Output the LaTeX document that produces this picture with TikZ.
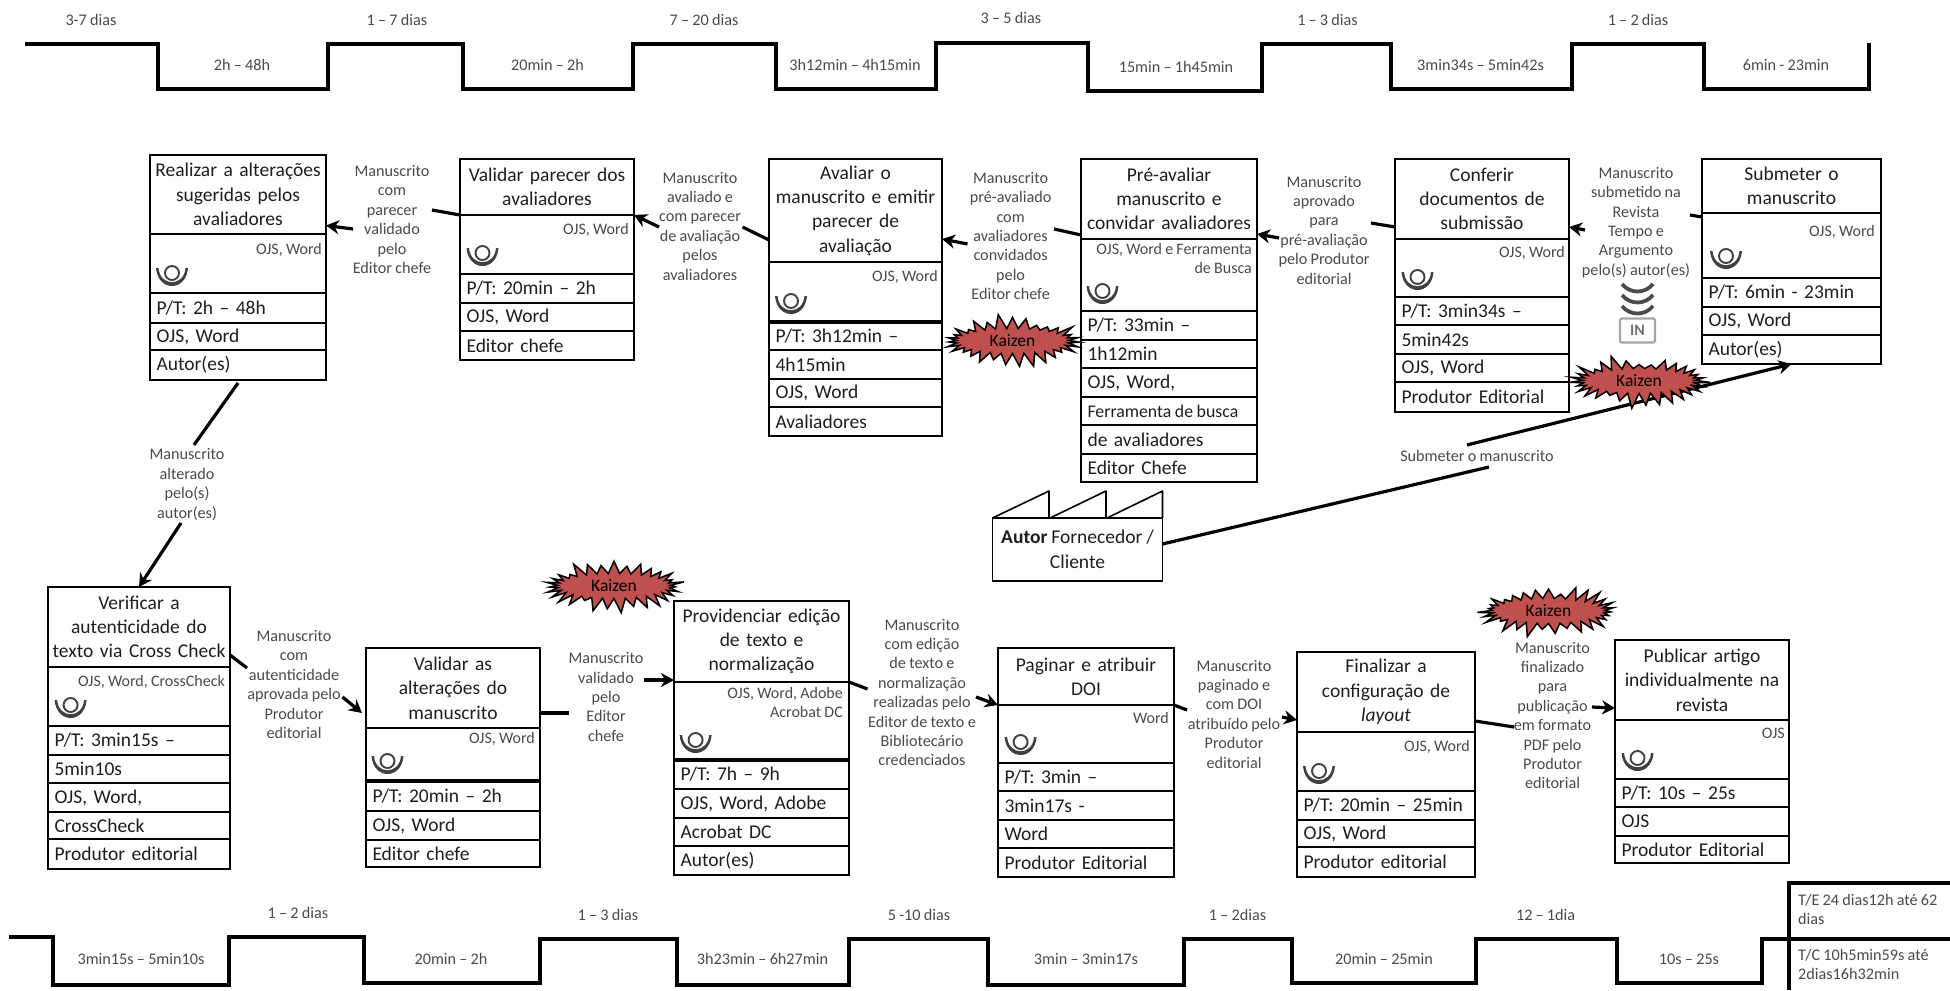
\documentclass[tikz,border=0pt]{standalone}
\usepackage{fontspec}
\setmainfont{Carlito}
\usetikzlibrary{arrows.meta,shapes.symbols}
\definecolor{lblgray}{HTML}{4A4A4A}
\definecolor{inkdark}{HTML}{1E1E1E}
\definecolor{kaizenred}{HTML}{C0504D}
\newcommand{\tightsp}{\spaceskip=.2em\relax}
\newcommand{\smallrow}[1]{{\fontsize{17.8}{24}\selectfont\tightsp #1}}
\tikzset{
  cell/.style={draw=black,line width=2pt,inner ysep=0pt,outer sep=0pt,text=inkdark},
  rowcell/.style={inner xsep=6.5pt,align=left,font=\fontsize{19.5}{24}\selectfont\tightsp},
  titlecell/.style={inner xsep=1.5pt,text width=\cq pt,align=center,font=\fontsize{19.5}{24.3}\selectfont\tightsp},
  toolnote/.style={inner sep=0pt,align=right,text=lblgray,font=\fontsize{16}{19.6}\selectfont\tightsp},
  lbl/.style={inner sep=0pt,align=center,text=lblgray,font=\fontsize{16.2}{19.4}\selectfont\tightsp},
  flow/.style={line width=3.2pt,draw=black,-{Stealth[length=13pt,width=14pt]}},
  tline/.style={line width=4pt,draw=black,line join=miter},
  burst/.style={starburst,starburst points=31,starburst point height=15pt,draw=black,line width=1.5pt,fill=kaizenred,
     inner sep=0pt,minimum width=143pt,minimum height=55pt,text=black,font=\fontsize{17.5}{20}\selectfont},
  operator/.pic={
    \draw[line width=1.9pt,draw=black!75] (0,-2) circle (7pt);
    \fill[black!75] (-16,-7) .. controls (-14,17) and (14,17) .. (16,-7) -- (13.5,-7) .. controls (12,12) and (-12,12) .. (-13.5,-7) -- cycle;
  }
}
\newcommand{\Cell}[7]{%
  \pgfmathsetmacro\cw{#4-#2}\pgfmathsetmacro\ch{#5-#3}%
  \pgfmathsetmacro\cx{(#2+#4)/2}\pgfmathsetmacro\cy{(#3+#5)/2}%
  \pgfmathsetmacro\ct{\cw-13}\pgfmathsetmacro\cq{\cw-3}%
  \node[cell,text width=\ct pt,#6,minimum width=\cw pt,minimum height=\ch pt] (#1) at (\cx,\cy) {#7};}
\newcommand{\Proc}[8]{%
  \Cell{#1t}{#2}{#4}{#3}{#5}{titlecell}{#7}%
  \Cell{#1b}{#2}{#5}{#3}{#6}{rowcell}{}%
  \foreach \yb/\txt [remember=\yb as \ya (initially #6),count=\i] in {#8}{%
    \Cell{#1r\i}{#2}{\ya}{#3}{\yb}{rowcell}{\mbox{\txt}}}}
\newcommand{\Tool}[6]{%
  \pgfmathsetmacro\ty{#3-8}%
  \node[toolnote,anchor=north east] (#1tool) at (#2,\ty) {#4};
  \pic at (#5,#6) {operator};}
\newcommand{\Lab}[4]{\node[lbl] (#1) at (#2,#3) {#4};}
\begin{document}
\begin{tikzpicture}[x=1pt,y=-1pt]
\useasboundingbox (0,0) rectangle (1950,990);
% top timeline
\draw[tline] (25,44) -- (157.5,44) -- (157.5,89) -- (328,89) -- (328,44) -- (463,44) -- (463,89) -- (632.5,89) -- (632.5,44) -- (776,44) -- (776,89) -- (936,89) -- (936,43) -- (1088,43) -- (1088,91) -- (1262,91) -- (1262,44) -- (1391,44) -- (1391,89) -- (1572,89) -- (1572,44) -- (1704,44) -- (1704,89) -- (1869,89) -- (1869,43);
\Lab{ta}{91}{20}{3-7 dias}
\Lab{tb}{397}{20}{1 – 7 dias}
\Lab{tc}{704}{20}{7 – 20 dias}
\Lab{td}{1011}{18}{3 – 5 dias}
\Lab{te}{1327.5}{20}{1 – 3 dias}
\Lab{tf}{1638}{20}{1 – 2 dias}
\Lab{ua}{242}{65}{2h – 48h}
\Lab{ub}{547.5}{65}{20min – 2h}
\Lab{uc}{855}{65}{3h12min – 4h15min}
\Lab{ud}{1176}{67}{15min – 1h45min}
\Lab{ue}{1480.6}{65}{3min34s – 5min42s}
\Lab{uf}{1786}{65}{6min - 23min}
% bottom timeline
\draw[tline] (9,937) -- (53,937) -- (53,985) -- (229,985) -- (229,937) -- (364,937) -- (364,983) -- (540,983) -- (540,939) -- (677,939) -- (677,985) -- (849,985) -- (849,939) -- (987.5,939) -- (987.5,985) -- (1184,985) -- (1184,939) -- (1292,939) -- (1292,983) -- (1476,983) -- (1476,939) -- (1617,939) -- (1617,983) -- (1762,983) -- (1762,939) -- (1950,939);
\draw[tline] (1950,883) -- (1789,883) -- (1789,990);
\Lab{va}{298}{913}{1 – 2 dias}
\Lab{vb}{608}{914.5}{1 – 3 dias}
\Lab{vc}{919}{914.5}{5 -10 dias}
\Lab{vd}{1237.5}{914.5}{1 – 2dias}
\Lab{ve}{1545.6}{914.5}{12 – 1dia}
\Lab{wa}{141}{959}{3min15s – 5min10s}
\Lab{wb}{451}{959}{20min – 2h}
\Lab{wc}{762.5}{959}{3h23min – 6h27min}
\Lab{wd}{1086}{959}{3min – 3min17s}
\Lab{we}{1384}{959}{20min – 25min}
\Lab{wf}{1689}{959}{10s – 25s}
\node[lbl,align=left,anchor=north west] (tE) at (1798,894) {T/E 24 dias12h até 62\\dias};
\node[lbl,align=left,anchor=north west] (tC) at (1798,949) {T/C 10h5min59s até\\2dias16h32min};
% process boxes, top row
\Proc{bA}{150}{326}{155}{234}{293}{Realizar a alterações\\sugeridas pelos\\avaliadores}{323/{P/T: 2h – 48h},350/{OJS, Word},380/{Autor(es)}}
\Tool{bA}{322}{251}{OJS, Word}{172}{275}
\Proc{bB}{460}{634}{159}{215}{274}{Validar parecer dos\\avaliadores}{303/{P/T: 20min – 2h},331/{OJS, Word},360/{Editor chefe}}
\Tool{bB}{629}{231}{OJS, Word}{482.5}{255}
\Proc{bC}{769}{942}{159}{262}{322}{Avaliar o\\manuscrito e emitir\\parecer de\\avaliação}{350/{P/T: 3h12min –},379/{4h15min},407/{OJS, Word},436/{Avaliadores}}
\Tool{bC}{938}{278}{OJS, Word}{791}{303}
\Proc{bD}{1081}{1257}{159}{239}{311}{Pré-avaliar\\manuscrito e\\convidar avaliadores}{340/{P/T: 33min –},368/{1h12min},397/{OJS, Word,},425/{\smallrow{Ferramenta de busca}},454/{de avaliadores},482/{Editor Chefe}}
\Tool{bD}{1252}{251}{OJS, Word e Ferramenta\\de Busca}{1102.5}{293}
\Proc{bE}{1395}{1569}{159}{239}{297}{Conferir\\documentos de\\submissão}{325/{P/T: 3min34s –},354/{5min42s},382/{OJS, Word},412/{Produtor Editorial}}
\Tool{bE}{1565}{254}{OJS, Word}{1417.5}{279}
\Proc{bF}{1702}{1881}{159}{213}{278}{Submeter o\\manuscrito}{307/{P/T: 6min - 23min},335/{OJS, Word},364/{Autor(es)}}
\Tool{bF}{1875}{233}{OJS, Word}{1726}{258}
% process boxes, bottom row
\Proc{bG}{48}{230}{587}{667}{726}{Verificar a\\autenticidade do\\texto via Cross Check}{755/{P/T: 3min15s –},783/{5min10s},812/{OJS, Word,},839/{CrossCheck},869/{Produtor editorial}}
\Tool{bG}{225}{683}{OJS, Word, CrossCheck}{70.6}{707}
\Proc{bH}{366}{540}{648}{728}{781}{Validar as\\alterações do\\manuscrito}{811/{P/T: 20min – 2h},840/{OJS, Word},867/{Editor chefe}}
\Tool{bH}{535}{740}{OJS, Word}{387.5}{763}
\Proc{bI}{674}{849}{601}{682}{760}{Providenciar edição\\de texto e\\normalização}{789/{P/T: 7h – 9h},818/{OJS, Word, Adobe},846/{Acrobat DC},875/{Autor(es)}}
\Tool{bI}{843}{695}{OJS, Word, Adobe\\Acrobat DC}{695.6}{742}
\Proc{bJ}{998}{1174}{648}{705}{763}{Paginar e atribuir\\DOI}{791/{P/T: 3min –},820/{3min17s -},848/{Word},877/{Produtor Editorial}}
\Tool{bJ}{1169}{720}{Word}{1020.6}{744}
\Proc{bK}{1297}{1475}{652}{732}{791}{Finalizar a\\configuração de\\\textit{layout}}{820/{P/T: 20min – 25min},847/{OJS, Word},877/{Produtor editorial}}
\Tool{bK}{1470}{748}{OJS, Word}{1319}{773}
\Proc{bL}{1615}{1789}{640}{720}{779}{Publicar artigo\\individualmente na\\revista}{807/{P/T: 10s – 25s},836/{OJS},863/{Produtor Editorial}}
\Tool{bL}{1785}{736}{OJS}{1637.5}{760}
% thicker separators
\draw[line width=3.6pt] (bCb.south west) -- (bCb.south east);
\draw[line width=3.6pt] (bHb.south west) -- (bHb.south east);
\draw[line width=3.6pt] (bIb.south west) -- (bIb.south east);
% supplier
\node[cell,line width=1.8pt,minimum width=170pt,minimum height=63pt,align=center,font=\fontsize{19.5}{25}\selectfont\tightsp] (aut) at (1077.5,549.5) {\textbf{Autor} Fornecedor /\\Cliente};
\draw[line width=1.6pt,line join=round] (aut.north west) -- (1049,491) -- (1049,518) -- (1050,518) -- (1106,491) -- (1106,518) -- (1107,518) -- (1162.5,491) -- (aut.north east);
% connector labels
\Lab{lA}{392}{219.5}{Manuscrito\\com\\parecer\\validado\\pelo\\Editor chefe}
\Lab{lB}{700}{226}{Manuscrito\\avaliado e\\com parecer\\de avaliação\\pelos\\avaliadores}
\Lab{lC}{1010.6}{236}{Manuscrito\\pré-avaliado\\com\\avaliadores\\convidados\\pelo\\Editor chefe}
\Lab{lD}{1324}{230}{Manuscrito\\aprovado\\para\\pré-avaliação\\pelo Produtor\\editorial}
\Lab{lE}{1636}{222.5}{Manuscrito\\submetido na\\Revista\\Tempo e\\Argumento\\pelo(s) autor(es)}
\Lab{lF}{1477}{456}{Submeter o manuscrito}
\Lab{lG}{187}{484.5}{Manuscrito\\alterado\\pelo(s)\\autor(es)}
\Lab{lH}{294}{684.5}{Manuscrito\\com\\autenticidade\\aprovada pelo\\Produtor\\editorial}
\Lab{lI}{606}{697}{Manuscrito\\validado\\pelo\\Editor\\chefe}
\Lab{lJ}{922}{692.5}{Manuscrito\\com edição\\de texto e\\normalização\\realizadas pelo\\Editor de texto e\\Bibliotecário\\credenciados}
\Lab{lK}{1234}{714}{Manuscrito\\paginado e\\com DOI\\atribuído pelo\\Produtor\\editorial}
\Lab{lL}{1552.5}{715.5}{Manuscrito\\finalizado\\para\\publicação\\em formato\\PDF pelo\\Produtor\\editorial}
% connectors
\draw[flow] (bBt.south west) -- (432,210) (353,229) -- ([yshift=-31pt]bAt.east);
\draw[flow] ([yshift=-29.5pt]bCt.west) -- (742.5,227) (659,227) -- (bBt.south east);
\draw[flow] ([yshift=-36pt]bDt.west) -- (1054,229) (967.5,244) -- ([yshift=-28.5pt]bCt.east);
\draw[flow] ([yshift=-28pt]bEt.west) -- (1371,223) (1279,238) -- ([yshift=-35pt]bDt.east);
\draw[flow] ([yshift=-4pt]bFb.north west) -- (1690,215) (1585,230) -- ([yshift=-28pt]bEt.east);
\draw[flow] ([yshift=5.5pt]aut.east) -- (1489,467) (1467,445) -- (bFr3.south);
\draw[flow] ([yshift=-3pt]bAr3.south) -- (194,445) (181,523) -- (bGt.north);
\draw[flow] ([yshift=-28pt]bGt.east) -- (247,668) (342.5,697) -- ([xshift=-4pt,yshift=-25pt]bHt.west);
\draw[flow] ([yshift=-25pt]bHt.east) -- (569,713) (644,680) -- ([yshift=2pt]bIt.south west);
\draw[flow] (bIt.south east) -- (867.5,689) (976,697) -- (bJt.south west);
\draw[flow] (bJt.south east) -- (1187,710) (1282,717) -- ([yshift=-28pt]bKt.west);
\draw[flow] ([yshift=-29pt]bKt.east) -- (1514,727) (1592,707) -- ([yshift=-28pt]bLt.west);
% inventory icon
\foreach \sy in {284,295,306}{
  \draw[line width=3.8pt,draw=black!70] (1622,\sy) .. controls (1630,\sy+10) and (1645,\sy+10) .. (1653,\sy);
}
\node[draw=black!35,line width=2.4pt,rounded corners=1.5pt,minimum width=35pt,minimum height=24pt,inner sep=0pt,text=black!55,font=\bfseries\fontsize{16}{16}\selectfont] (inv) at (1637.5,330.5) {IN};
% kaizen bursts
\node[burst,random starburst=11] (kA) at (1012.5,341) {Kaizen};
\node[burst,random starburst=23] (kB) at (1639,381) {Kaizen};
\node[burst,random starburst=37] (kC) at (614,586) {Kaizen};
\node[burst,random starburst=51] (kD) at (1548.5,611) {Kaizen};
\end{tikzpicture}
\end{document}
